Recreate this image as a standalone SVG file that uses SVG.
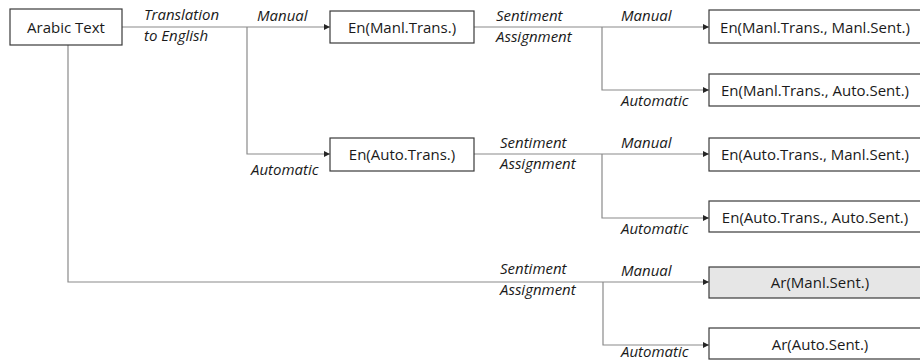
<svg xmlns="http://www.w3.org/2000/svg" width="920" height="362" viewBox="0 0 920 362">
<defs>
<marker id="ah" viewBox="0 0 8 8" refX="8" refY="4" markerWidth="6" markerHeight="6" markerUnits="userSpaceOnUse" orient="auto">
<path d="M0,0 L8,4 L0,8 z" fill="#262626"/>
</marker>
<style>
.box{fill:#fff;stroke:#3a3a3a;stroke-width:1.2}
.grey{fill:#e6e6e6}
.t{font-family:"Open Sans","Noto Sans",sans-serif;font-size:15px;fill:#1a1a1a;text-anchor:middle;dominant-baseline:central}
.l{font-family:"Open Sans","Noto Sans",sans-serif;font-size:15px;font-style:italic;fill:#1a1a1a}
.c{fill:none;stroke:#8a8a8a;stroke-width:1.2}
</style>
</defs>
<g id="connectors">
<path class="c" d="M122,27 H330" marker-end="url(#ah)"/>
<path class="c" d="M247,27 V154 H330" marker-end="url(#ah)"/>
<path class="c" d="M68,45 V282 H709" marker-end="url(#ah)"/>
<path class="c" d="M474,27 H709" marker-end="url(#ah)"/>
<path class="c" d="M602,27 V90 H709" marker-end="url(#ah)"/>
<path class="c" d="M474,154 H709" marker-end="url(#ah)"/>
<path class="c" d="M602,154 V218 H709" marker-end="url(#ah)"/>
<path class="c" d="M603,282 V345 H709" marker-end="url(#ah)"/>
</g>
<g id="labels">
<text class="l" x="144" y="20">Translation</text>
<text class="l" x="144" y="41">to English</text>
<text class="l" x="257" y="21">Manual</text>
<text class="l" x="251" y="175">Automatic</text>
<text class="l" x="496" y="21">Sentiment</text>
<text class="l" x="496" y="42">Assignment</text>
<text class="l" x="621" y="21">Manual</text>
<text class="l" x="621" y="106">Automatic</text>
<text class="l" x="500" y="148">Sentiment</text>
<text class="l" x="500" y="169">Assignment</text>
<text class="l" x="621" y="148">Manual</text>
<text class="l" x="621" y="234">Automatic</text>
<text class="l" x="500" y="274">Sentiment</text>
<text class="l" x="500" y="295">Assignment</text>
<text class="l" x="621" y="276">Manual</text>
<text class="l" x="621" y="357">Automatic</text>
</g>
<g id="arabic-text"><rect class="box" x="10" y="9" width="112" height="36"/><text class="t" x="66" y="27">Arabic Text</text></g>
<g id="en-manl-trans"><rect class="box" x="330" y="11" width="144" height="32"/><text class="t" x="402" y="27">En(Manl.Trans.)</text></g>
<g id="en-auto-trans"><rect class="box" x="330" y="138" width="144" height="33"/><text class="t" x="402" y="154">En(Auto.Trans.)</text></g>
<g id="en-mt-ms"><rect class="box" x="709" y="10" width="220" height="33"/><text class="t" x="815" y="27">En(Manl.Trans., Manl.Sent.)</text></g>
<g id="en-mt-as"><rect class="box" x="709" y="74" width="220" height="32"/><text class="t" x="815" y="90">En(Manl.Trans., Auto.Sent.)</text></g>
<g id="en-at-ms"><rect class="box" x="709" y="138" width="220" height="33"/><text class="t" x="815" y="154">En(Auto.Trans., Manl.Sent.)</text></g>
<g id="en-at-as"><rect class="box" x="709" y="201" width="220" height="31"/><text class="t" x="815" y="217">En(Auto.Trans., Auto.Sent.)</text></g>
<g id="ar-ms"><rect class="box grey" x="709" y="267" width="220" height="31"/><text class="t" x="820" y="282">Ar(Manl.Sent.)</text></g>
<g id="ar-as"><rect class="box" x="709" y="328" width="220" height="31"/><text class="t" x="820" y="344">Ar(Auto.Sent.)</text></g>
</svg>
